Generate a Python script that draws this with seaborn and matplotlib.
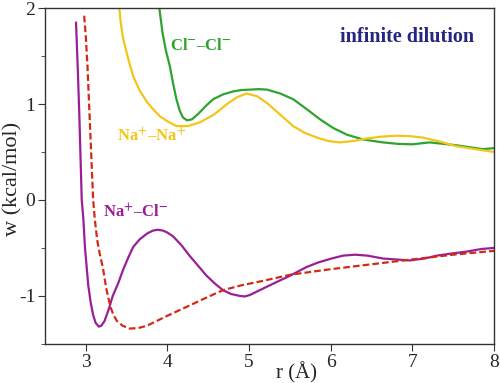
import numpy as np
import pandas as pd
import matplotlib
matplotlib.use("Agg")
import matplotlib.pyplot as plt
import seaborn as sns
from matplotlib.ticker import MultipleLocator

# Na+ - Cl- (solid purple)
r_nacl = [2.88, 2.9, 2.92, 2.95, 2.97, 2.99, 3.03, 3.06, 3.09, 3.12, 3.16, 3.19, 3.23, 3.28,
          3.33, 3.4, 3.46, 3.52, 3.58, 3.66, 3.75, 3.82, 3.88, 3.95, 4.0, 4.07, 4.17, 4.27,
          4.38, 4.48, 4.58, 4.68, 4.78, 4.89, 4.95, 5.01, 5.13, 5.3, 5.5, 5.7, 5.85, 6.01,
          6.15, 6.3, 6.45, 6.64, 6.8, 6.97, 7.15, 7.3, 7.46, 7.65, 7.85, 8.0]
w_nacl = [1.85, 1.4, 0.9, 0.0, -0.2, -0.5, -0.89, -1.07, -1.2, -1.28, -1.32, -1.31, -1.26, -1.14,
          -1.0, -0.86, -0.72, -0.6, -0.49, -0.41, -0.35, -0.32, -0.31, -0.32, -0.34, -0.38, -0.47, -0.58,
          -0.69, -0.79, -0.87, -0.94, -0.98, -1.0, -1.005, -0.99, -0.94, -0.87, -0.79, -0.7, -0.65, -0.61,
          -0.58, -0.57, -0.58, -0.61, -0.62, -0.63, -0.61, -0.58, -0.56, -0.54, -0.51, -0.50]

# Na+ - Cl- reference (dashed red)
r_ref = [2.98, 3.0, 3.02, 3.04, 3.065, 3.09, 3.11, 3.14, 3.17, 3.21, 3.25, 3.3, 3.34, 3.38,
         3.45, 3.54, 3.64, 3.75, 3.87, 3.99, 4.13, 4.27, 4.47, 4.68, 4.9, 5.13, 5.5, 5.75,
         6.01, 6.5, 6.99, 7.5, 8.0]
w_ref = [1.92, 1.7, 1.4, 1.0, 0.5, 0.0, -0.2, -0.42, -0.56, -0.71, -0.92, -1.11, -1.2, -1.26,
         -1.31, -1.34, -1.335, -1.31, -1.26, -1.21, -1.155, -1.1, -1.02, -0.94, -0.89, -0.85, -0.78, -0.75,
         -0.72, -0.67, -0.62, -0.57, -0.53]

# Cl- - Cl- (green)
r_clcl = [3.9, 3.92, 3.94, 3.98, 4.03, 4.07, 4.11, 4.15, 4.19, 4.24, 4.3, 4.38, 4.47, 4.56,
          4.68, 4.8, 4.9, 5.01, 5.12, 5.22, 5.38, 5.54, 5.7, 5.87, 6.03, 6.2, 6.4, 6.64,
          6.82, 7.0, 7.21, 7.38, 7.54, 7.7, 7.86, 8.0]
w_clcl = [2.0, 1.87, 1.74, 1.56, 1.39, 1.21, 1.05, 0.93, 0.86, 0.83, 0.84, 0.9, 0.98, 1.05,
          1.1, 1.13, 1.145, 1.15, 1.155, 1.15, 1.11, 1.05, 0.95, 0.84, 0.75, 0.68, 0.63, 0.6,
          0.585, 0.58, 0.6, 0.585, 0.57, 0.55, 0.53, 0.54]

# Na+ - Na+ (yellow)
r_nana = [3.41, 3.43, 3.46, 3.52, 3.58, 3.66, 3.75, 3.83, 3.91, 4.0, 4.11, 4.25, 4.4, 4.57,
          4.73, 4.85, 4.97, 5.1, 5.22, 5.38, 5.54, 5.68, 5.83, 5.97, 6.11, 6.28, 6.44, 6.62,
          6.81, 6.97, 7.13, 7.33, 7.54, 7.77, 8.0]
w_nana = [2.0, 1.83, 1.67, 1.47, 1.29, 1.14, 1.02, 0.94, 0.87, 0.82, 0.77, 0.77, 0.81, 0.89,
          1.0, 1.07, 1.11, 1.08, 1.01, 0.89, 0.77, 0.7, 0.65, 0.615, 0.6, 0.615, 0.64, 0.66,
          0.67, 0.665, 0.65, 0.61, 0.56, 0.53, 0.5]

sns.set_style("ticks")
plt.rcParams['font.family'] = ['Liberation Serif', 'DejaVu Serif']
plt.rcParams['mathtext.fontset'] = 'stix'
plt.rcParams['axes.unicode_minus'] = False

fig = plt.figure(figsize=(5, 3.83), dpi=100)
ax = fig.add_axes([0.09, 0.102, 0.898, 0.877])

lw = 1.6
sns.lineplot(x=r_nacl, y=w_nacl, color="#9a1f96", lw=lw, ax=ax, sort=False)
sns.lineplot(x=r_ref, y=w_ref, color="#d42a14", lw=lw, ax=ax, sort=False, linestyle=(0, (3, 1.4)))
sns.lineplot(x=r_clcl, y=w_clcl, color="#2ea32e", lw=lw, ax=ax, sort=False)
sns.lineplot(x=r_nana, y=w_nana, color="#f2c618", lw=lw, ax=ax, sort=False)

ax.set_xlim(2.5, 8)
ax.set_ylim(-1.5, 2)
ax.set_xticks([3, 4, 5, 6, 7, 8])
ax.set_yticks([-1, 0, 1, 2])
ax.yaxis.set_minor_locator(MultipleLocator(0.5))
ax.tick_params(axis="both", which="major", labelsize=14, length=5, pad=2,
               direction="out", color="#333333")
ax.tick_params(axis="y", which="minor", length=3, direction="out", color="#333333")
for s in ax.spines.values():
    s.set_color("#333333")
    s.set_linewidth(1.0)

ax.set_xlabel("r (Å)", fontsize=15)
ax.xaxis.set_label_coords(0.56, -0.055)
ax.set_ylabel("w (kcal/mol)", fontsize=16)
ax.yaxis.set_label_coords(-0.05, 0.49)

bold = dict(fontsize=12, fontweight="bold", ha="center", va="center")
ax.text(4.41, 1.6, r"Cl$^{\mathbf{-}}$–Cl$^{\mathbf{-}}$", color="#2ea32e", **bold)
ax.text(3.81, 0.66, r"Na$^{\mathbf{+}}$–Na$^{\mathbf{+}}$", color="#f2c618", **bold)
ax.text(3.61, -0.13, r"Na$^{\mathbf{+}}$–Cl$^{\mathbf{-}}$", color="#9a1f96", **bold)
ax.text(6.93, 1.7, "infinite dilution", color="#262680", fontsize=14.5, fontweight="bold",
        ha="center", va="center")

fig.savefig("out.png", dpi=100)
